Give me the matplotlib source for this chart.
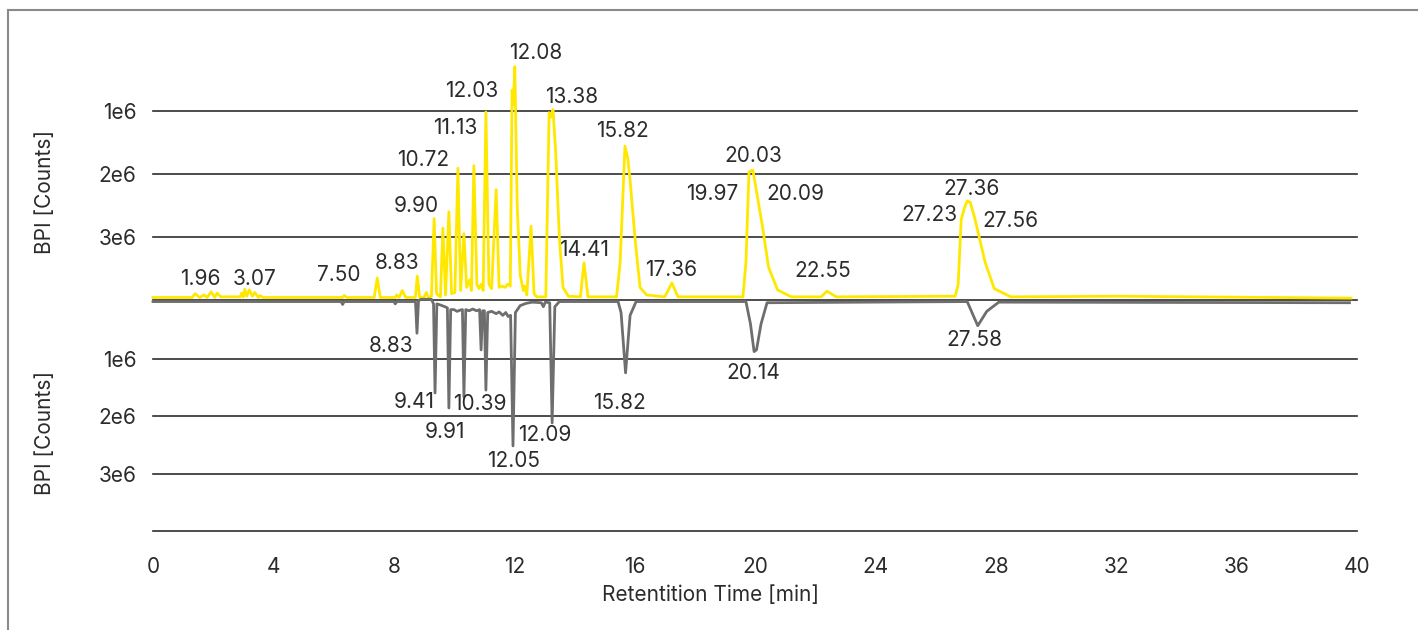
import numpy as np
import matplotlib.pyplot as plt
from matplotlib.lines import Line2D

plt.rcParams['font.family'] = ['Inter', 'DejaVu Sans']

# top trace (yellow): retention time [min], intensity [1e6 counts]
top_time = [0.0, 1.30, 1.40, 1.55, 1.70, 1.80, 1.93, 2.05, 2.13, 2.25, 2.90, 2.95, 3.00,
            3.05, 3.12, 3.20, 3.30, 3.38, 3.50, 3.55, 3.65, 6.30, 6.35, 6.45, 7.35, 7.45,
            7.55, 8.05, 8.10, 8.18, 8.28, 8.40, 8.72, 8.78, 8.86, 9.00, 9.08, 9.15, 9.25,
            9.34, 9.42, 9.55, 9.63, 9.72, 9.83, 9.92, 10.03, 10.13, 10.22, 10.33, 10.42,
            10.52, 10.58, 10.66, 10.76, 10.83, 10.90, 10.97, 11.06, 11.16, 11.25, 11.40,
            11.50, 11.60, 11.70, 11.78, 11.87, 11.93, 11.97, 12.02, 12.10, 12.20, 12.30,
            12.35, 12.42, 12.56, 12.66, 12.75, 13.05, 13.16, 13.22, 13.29, 13.38, 13.50,
            13.62, 13.80, 14.20, 14.32, 14.45, 15.40, 15.52, 15.68, 15.77, 15.85, 16.02,
            16.18, 16.40, 17.00, 17.24, 17.44, 19.60, 19.70, 19.80, 19.87, 19.93, 20.25,
            20.45, 20.75, 21.20, 22.20, 22.39, 22.70, 26.65, 26.75, 26.85, 26.95, 27.05,
            27.15, 27.30, 27.65, 27.95, 28.50, 32.00, 39.80]
top_int = [0.04, 0.04, 0.10, 0.04, 0.08, 0.04, 0.13, 0.04, 0.11, 0.05, 0.05, 0.11, 0.05,
           0.17, 0.06, 0.16, 0.06, 0.12, 0.04, 0.07, 0.04, 0.04, 0.07, 0.04, 0.04, 0.35,
           0.04, 0.04, 0.08, 0.04, 0.15, 0.04, 0.04, 0.38, 0.04, 0.04, 0.12, 0.04, 0.06,
           1.29, 0.10, 0.05, 1.14, 0.08, 1.40, 0.10, 0.12, 2.09, 0.15, 1.05, 0.20,
           0.32, 0.15, 2.13, 0.25, 0.18, 0.25, 0.15, 2.98, 0.25, 0.18, 1.75,
           0.20, 0.22, 0.20, 0.25, 0.22, 3.33, 3.10, 3.70, 1.50, 0.40, 0.15,
           0.22, 0.08, 1.17, 0.10, 0.05, 0.05, 2.97, 2.90, 3.02, 2.33, 1.00,
           0.20, 0.06, 0.05, 0.59, 0.05, 0.05, 0.60, 2.44, 2.25, 1.90, 0.95,
           0.20, 0.08, 0.05, 0.27, 0.05, 0.05, 0.60, 2.03, 2.05, 2.06, 1.16,
           0.52, 0.16, 0.05, 0.05, 0.14, 0.05, 0.06, 0.25, 1.27, 1.45, 1.57,
           1.55, 1.30, 0.59, 0.18, 0.05, 0.06, 0.03]

# bottom trace (grey, mirrored): retention time [min], intensity [1e6 counts]
bot_time = [0.0, 6.25, 6.30, 6.35, 8.00, 8.05, 8.10, 8.72, 8.77, 8.82, 8.90, 9.25, 9.32,
            9.37, 9.43, 9.55, 9.70, 9.78, 9.83, 9.89, 10.00, 10.10, 10.20, 10.28, 10.33,
            10.39, 10.50, 10.62, 10.75, 10.85, 10.90, 10.95, 11.01, 11.06, 11.12, 11.25,
            11.40, 11.50, 11.62, 11.72, 11.80, 11.88, 11.96, 12.04, 12.20, 12.40, 12.60,
            12.90, 12.97, 13.03, 13.18, 13.26, 13.35, 13.50, 15.45, 15.55, 15.70, 15.85,
            16.05, 19.70, 19.85, 19.97, 20.05, 20.20, 20.40, 27.05, 27.40, 27.70, 28.10,
            39.75]
bot_int = [0.01, 0.01, 0.06, 0.01, 0.01, 0.05, 0.01, 0.01, 0.56, 0.0, -0.03, -0.03, 0.05,
           1.60, 0.05, 0.07, 0.10, 0.12, 1.86, 0.15, 0.15, 0.18, 0.16, 0.15, 1.67,
           0.15, 0.17, 0.14, 0.17, 0.15, 0.85, 0.17, 0.17, 1.55, 0.20, 0.18,
           0.22, 0.19, 0.25, 0.20, 0.27, 0.25, 2.52, 0.20, 0.08, 0.04, 0.02,
           0.03, 0.10, 0.02, 0.03, 2.12, 0.10, 0.01, 0.01, 0.20, 1.25, 0.25,
           0.01, 0.01, 0.40, 0.88, 0.85, 0.40, 0.03, 0.01, 0.43, 0.18, 0.02,
           0.03]

# peak labels: text, label anchor (min, 1e6 counts)
top_labels = ['1.96', '3.07', '7.50', '8.83', '9.90', '10.72', '11.13', '12.03', '12.08',
              '13.38', '15.82', '14.41', '17.36', '20.03', '19.97', '20.09', '22.55',
              '27.36', '27.23', '27.56']
top_label_t = [1.56, 3.39, 6.18, 8.11, 8.74, 8.97, 10.03, 10.60, 12.72, 13.92, 15.61,
               14.32, 17.21, 19.93, 18.57, 21.33, 22.26, 27.18, 25.81, 28.50]
top_label_y = [0.33, 0.33, 0.40, 0.59, 1.49, 2.22, 2.73, 3.32, 3.92, 3.22, 2.68,
               0.79, 0.48, 2.29, 1.68, 1.68, 0.46, 1.76, 1.35, 1.25]

bot_labels = ['8.83', '9.41', '9.91', '10.39', '12.09', '12.05', '15.82', '20.14', '27.58']
bot_label_t = [7.91, 8.67, 9.70, 10.86, 13.02, 11.99, 15.51, 19.93, 27.28]
bot_label_y = [0.78, 1.76, 2.28, 1.79, 2.33, 2.78, 1.77, 1.25, 0.68]

x_ticks = list(range(0, 41, 4))
top_tick_labels = ['', '3e6', '2e6', '1e6']
bot_tick_labels = ['1e6', '2e6', '3e6', '']

yellow = '#ffe800'
grey = '#6e6e6e'
text_c = '#2b2b2b'
grid_c = '#2e2e2e'
fs = 15

W, H = 1418, 630
fig = plt.figure(figsize=(W / 100, H / 100), dpi=100)

left = 153 / W
width = (1357 - 153) / W
ax_top = fig.add_axes([left, (H - 300) / H, width, 280 / H])
ax_bot = fig.add_axes([left, (H - 531) / H, width, 230 / H])

for ax in (ax_top, ax_bot):
    for s in ax.spines.values():
        s.set_visible(False)
    ax.set_xlim(0, 40)
    ax.set_axisbelow(True)
    ax.yaxis.grid(True, color=grid_c, linewidth=1.2)
    ax.tick_params(length=0, labelsize=fs, labelcolor=text_c, pad=12)
    ax.patch.set_alpha(0)

ax_top.set_ylim(0, 4.44e6)
ax_top.set_yticks([0, 1e6, 2e6, 3e6])
ax_top.set_yticklabels(top_tick_labels)
ax_top.set_xticks([])

ax_bot.set_ylim(4e6, 0)
ax_bot.set_yticks([1e6, 2e6, 3e6, 4e6])
ax_bot.set_yticklabels(bot_tick_labels)
ax_bot.set_xticks(x_ticks)
ax_bot.set_xticklabels([str(v) for v in x_ticks])
ax_bot.tick_params(axis='x', pad=19)

for ax in (ax_top, ax_bot):
    for gl in ax.get_ygridlines():
        gl.set_clip_on(False)

ax_bot.plot(bot_time, np.array(bot_int) * 1e6, color=grey, linewidth=2.0,
            clip_on=False, zorder=3)
ax_top.plot(top_time, np.array(top_int) * 1e6, color=yellow, linewidth=2.0,
            clip_on=False, zorder=4)

for lab, t, v in zip(top_labels, top_label_t, top_label_y):
    ax_top.text(t, v * 1e6, lab, ha='center', va='center', fontsize=fs, color=text_c)
for lab, t, v in zip(bot_labels, bot_label_t, bot_label_y):
    ax_bot.text(t, v * 1e6, lab, ha='center', va='center', fontsize=fs, color=text_c)

fig.text(45 / W, (H - 192) / H, 'BPI [Counts]', rotation=90, ha='center', va='center',
         fontsize=fs, color=text_c)
fig.text(45 / W, (H - 433) / H, 'BPI [Counts]', rotation=90, ha='center', va='center',
         fontsize=fs, color=text_c)
fig.text(710 / W, (H - 595) / H, 'Retentition Time [min]', ha='center', va='center',
         fontsize=fs, color=text_c)

# outer frame (left and top edges visible)
fig.add_artist(Line2D([8 / W, 8 / W], [0, (H - 10) / H], color='#8a8a8a', linewidth=1.5))
fig.add_artist(Line2D([8 / W, 1], [(H - 10) / H, (H - 10) / H], color='#8a8a8a', linewidth=1.5))

fig.savefig('out.png', dpi=100)
